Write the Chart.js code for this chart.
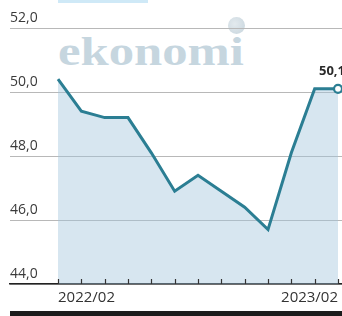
<!DOCTYPE html>
<html><head><meta charset="utf-8">
<script src="https://cdn.jsdelivr.net/npm/chart.js@4/dist/chart.umd.min.js"></script>
<style>
html,body{margin:0;padding:0;background:#fff;}
#wrap{position:relative;width:342px;height:316px;overflow:hidden;}
#wm{position:absolute;left:58px;top:30px;font:bold 39px "Liberation Serif",serif;color:#c6d6df;transform:scaleX(1.3);transform-origin:left top;line-height:44px;z-index:0;}
#globe{position:absolute;left:228px;top:17px;width:17px;height:17px;border-radius:50%;background:radial-gradient(circle at 40% 40%,#e3eaee 0,#cfdbe2 70%);z-index:0;}
#topbar{position:absolute;left:58px;top:0;width:90px;height:3px;background:#cfe9f7;}
#botbar{position:absolute;left:10px;top:311px;width:332px;height:5px;background:#1c1c1c;}
canvas{position:absolute;left:0;top:0;z-index:1;}
</style></head>
<body><div id="wrap">
<div id="topbar"></div><div id="wm">ekonomi</div><div id="globe"></div>
<canvas id="c" width="342" height="316"></canvas>
<div id="botbar"></div>
</div>
<script>
const categories = ['2022/02','2022/03','2022/04','2022/05','2022/06','2022/07','2022/08','2022/09','2022/10','2022/11','2022/12','2023/01','2023/02'];
const values = [50.4, 49.4, 49.2, 49.2, 48.1, 46.9, 47.4, 46.9, 46.4, 45.7, 48.1, 50.1, 50.1];
const yTicks = [44, 46, 48, 50, 52];
const shownXLabels = ['2022/02','2023/02'];

const fmt = v => v.toFixed(1).replace('.', ',');
const last = values.length - 1;

const tickMarks = {
  id:'tickMarks',
  afterDraw(chart){
    const x = chart.scales.x, ctx = chart.ctx, b = chart.chartArea.bottom;
    ctx.save(); ctx.strokeStyle='#333'; ctx.lineWidth=1.2;
    x.ticks.forEach(t=>{ const px=Math.round(x.getPixelForValue(t.value))+0.5; ctx.beginPath(); ctx.moveTo(px,b); ctx.lineTo(px,b-5); ctx.stroke(); });
    const meta = chart.getDatasetMeta(0), p = meta.data[last];
    ctx.fillStyle='#2a2a2a'; ctx.font='bold 13px "Open Sans", sans-serif'; ctx.textAlign='center'; ctx.textBaseline='middle';
    ctx.fillText(fmt(values[last]), p.x-6, p.y-18);
    ctx.restore();
  }
};

new Chart(document.getElementById('c'), {
  type:'line',
  data:{ datasets:[{
    data: values.map((v,i)=>({x:i,y:v})),
    borderColor:'#2b7e93', borderWidth:3, tension:0, clip:false,
    fill:'start', backgroundColor:'rgba(160,195,220,0.42)',
    pointRadius: c => c.dataIndex===last?4:0,
    pointBackgroundColor:'#fff', pointBorderColor:'#2b7e93', pointBorderWidth:2.2
  }]},
  options:{
    responsive:false, animation:false,
    layout:{autoPadding:false, padding:{left:10,right:0,top:28,bottom:0}},
    plugins:{legend:{display:false},tooltip:{enabled:false}},
    scales:{
      x:{ type:'linear', min:-2.057, max:12.171,
        afterBuildTicks: s => { s.ticks = categories.map((c,i)=>({value:i})); },
        afterFit: s => { s.height = 32; s.paddingLeft = 0; s.paddingRight = 0; },
        grid:{display:false, drawTicks:false},
        border:{display:true,color:'#222',width:1.5},
        ticks:{ autoSkip:false, maxRotation:0, align:'inner', padding:5, color:'#333',
          font:{family:'"Open Sans", sans-serif', size:15},
          callback: v => shownXLabels.includes(categories[v]) ? categories[v] : '' }
      },
      y:{ min:44, max:52,
        afterBuildTicks: s => { s.ticks = yTicks.map(v=>({value:v})); },
        afterFit: s => { s.width = 0; s.paddingTop = 0; s.paddingBottom = 0; },
        grid:{color:'#b8b8b8', lineWidth:1, drawTicks:false},
        border:{display:false},
        ticks:{ mirror:true, padding:0, labelOffset:-10, color:'#3a3a3a',
          font:{family:'"Open Sans", sans-serif', size:14},
          callback: v => fmt(v) }
      }
    }
  },
  plugins:[tickMarks]
});
</script>
</body></html>
